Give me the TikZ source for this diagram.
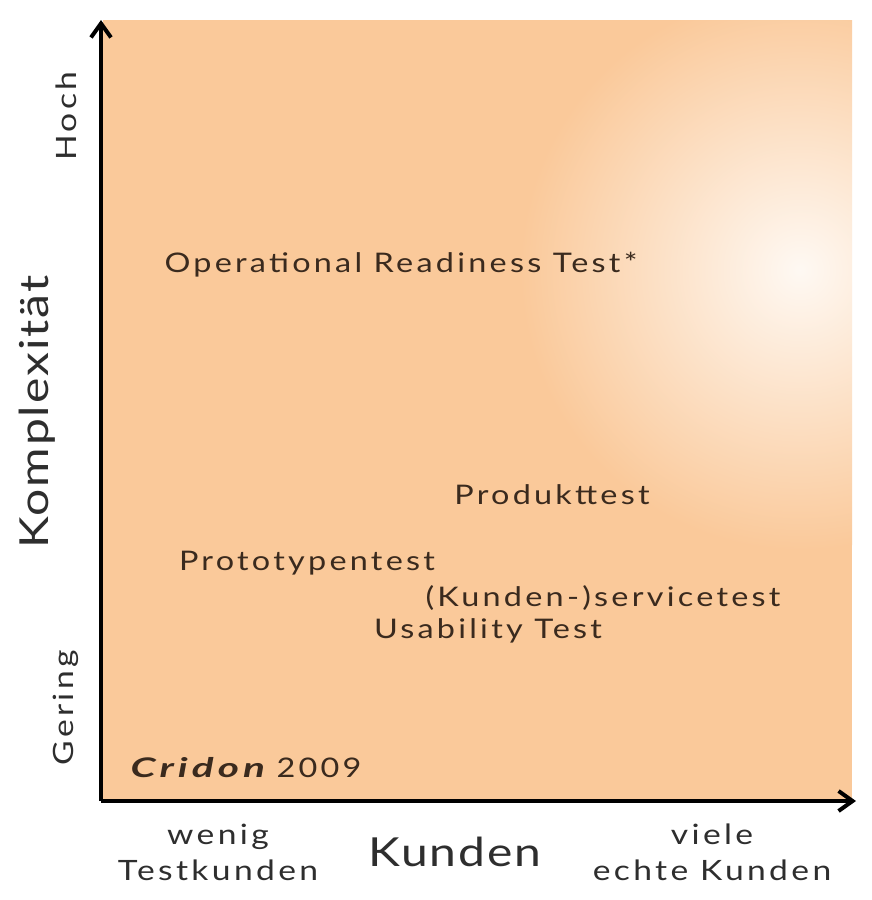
\documentclass[tikz,border=0pt]{standalone}
\usepackage{fontspec}
\setmainfont{Lato}
\newfontfamily\lblfont{Lato}[LetterSpace=12, FakeStretch=1.2]
\newfontfamily\bigfont{Lato}[LetterSpace=5, FakeStretch=1.2]
\newfontfamily\crfont{Lato}[LetterSpace=15, FakeStretch=1.5]
\usetikzlibrary{arrows.meta}
\definecolor{peach}{HTML}{FAC99A}
\definecolor{txt}{HTML}{3A2A1E}
\definecolor{lab}{HTML}{2E2E2E}
\tikzset{
  lbl/.style={text=txt, inner sep=0pt, font=\lblfont\fontsize{27}{30}\selectfont},
  axlbl/.style={text=lab, inner sep=0pt, font=\lblfont\fontsize{28}{36}\selectfont, align=center},
  biglbl/.style={text=lab, inner sep=0pt, font=\bigfont\fontsize{40}{44}\selectfont},
  axis/.style={line width=4pt, draw=black, -{Straight Barb[length=14pt,width=20pt,line width=4pt]}}
}
\begin{document}
\begin{tikzpicture}[x=1pt,y=-1pt]
\useasboundingbox (0,0) rectangle (871,900);
\fill[white] (0,0) rectangle (871,900);
\begin{scope}
\clip (103,20) rectangle (852,800);
\fill[peach] (103,20) rectangle (852,800);
\shade[inner color=peach!12, outer color=peach] (800,270) circle (280);
\end{scope}
\coordinate (o) at (101,801);
\coordinate (ytop) at (101,20);
\coordinate (xend) at (856,801);
\draw[axis] (o) -- (ytop);
\draw[axis] (o) -- (xend);
\node[lbl] (ort) at (401,265) {Operational Readiness Test*};
\node[lbl] (pt) at (552,495) {Produkttest};
\node[lbl] (proto) at (307,563) {Prototypentest};
\node[lbl] (kst) at (603,598) {(Kunden-)servicetest};
\node[lbl] (ut) at (488,631) {Usability Test};
\node[lbl] (cr) at (246,768) {{\crfont\itshape\bfseries Cridon} 2009};
\node[axlbl, rotate=90] (hoch) at (66,116) {Hoch};
\node[biglbl, rotate=90] (komp) at (37,412) {Komplexität};
\node[axlbl, rotate=90] (ger) at (66,708) {Gering};
\node[axlbl] (wt) at (218,852) {wenig\\Testkunden};
\node[biglbl] (ku) at (455,852) {Kunden};
\node[axlbl] (ve) at (712,852) {viele\\echte Kunden};
\end{tikzpicture}
\end{document}
